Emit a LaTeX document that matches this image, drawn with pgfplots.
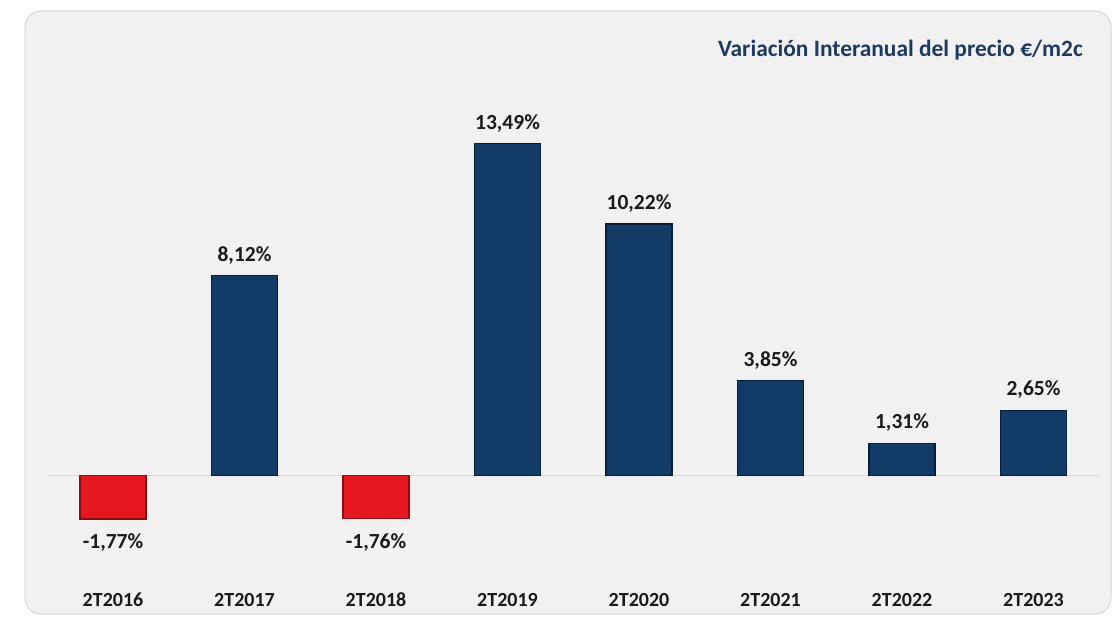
\documentclass[border=0pt]{standalone}
\usepackage{fontspec}
\setmainfont{Carlito}
\usepackage{pgfplots}
\pgfplotsset{compat=1.18}
\definecolor{navy}{HTML}{123B68}
\definecolor{navyedge}{HTML}{081D38}
\definecolor{redbar}{HTML}{E5171F}
\definecolor{rededge}{HTML}{8F0C11}
\definecolor{panel}{HTML}{F1F1F1}
\definecolor{panelborder}{HTML}{D6D6D6}
\definecolor{titleblue}{HTML}{1F3A60}
\definecolor{basegray}{HTML}{D9D9D9}
\definecolor{labelblack}{HTML}{1A1A1A}
\pgfplotsset{
  vallabel/.style={
    nodes near coords={\pgfmathprintnumber[fixed,fixed zerofill,precision=2,use comma,assume math mode=true]{\pgfplotspointmeta}\%},
    every node near coord/.append style={font=\fontsize{21.5}{26}\selectfont\bfseries, text=labelblack, anchor=center},
  }
}
\begin{document}
\begin{tikzpicture}[x=1pt,y=1pt]
\fill[white] (0,0) rectangle (1116,616);
\draw[panelborder, fill=panel, rounded corners=16pt, line width=1pt] (25,2) rectangle (1111,605);
\node[anchor=base east, font=\fontsize{23.4}{28}\selectfont\bfseries, text=titleblue, inner sep=0pt] at (1083,559) {Variación Interanual del precio €/m2c};
\begin{axis}[
  at={(40.7pt,29.8pt)}, anchor=south west, scale only axis,
  x=131.5pt, y=24.6pt,
  xmin=-0.55, xmax=7.55, ymin=-4.5, ymax=15,
  axis line style={draw=none}, major tick length=0pt,
  ytick=\empty, xtick={0,...,7},
  xticklabels={2T2016,2T2017,2T2018,2T2019,2T2020,2T2021,2T2022,2T2023},
  xticklabel style={anchor=center, yshift=-13.8pt, font=\fontsize{20}{24}\selectfont\bfseries, text=labelblack},
  clip=false,
]
\addplot[basegray, line width=1.5pt, no markers, forget plot] coordinates {(-0.5,0) (7.5,0)};
\addplot[ybar, bar width=66pt, bar shift=0pt, fill=navy, draw=navyedge, line width=1.2pt,
  vallabel, nodes near coords style={yshift=20.5pt}]
  coordinates {(1,8.12) (3,13.49) (4,10.22) (5,3.85) (6,1.31) (7,2.65)};
\addplot[ybar, bar width=66pt, bar shift=0pt, fill=redbar, draw=rededge, line width=1.2pt,
  vallabel, nodes near coords style={yshift=-23.5pt}]
  coordinates {(0,-1.77) (2,-1.76)};
\end{axis}
\end{tikzpicture}
\end{document}
